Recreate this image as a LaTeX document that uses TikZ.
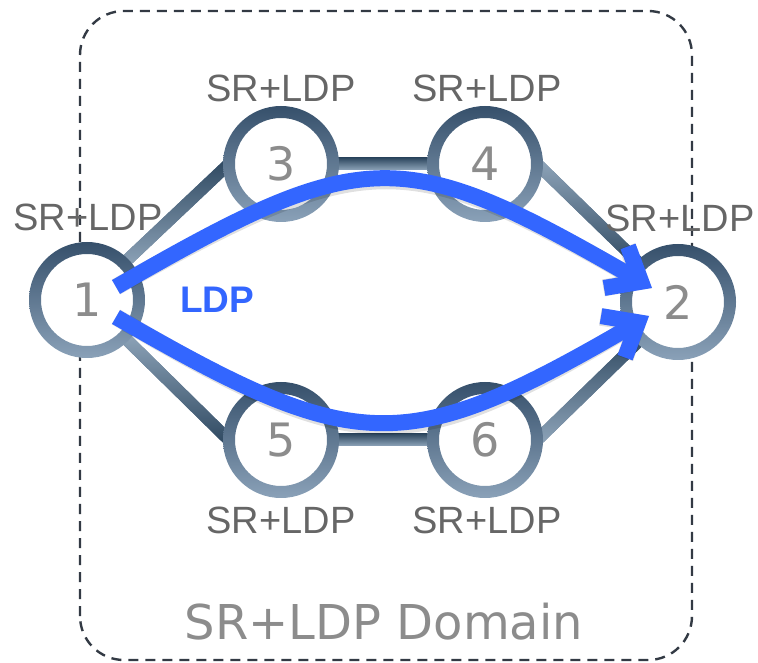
\documentclass[tikz,border=0pt]{standalone}
\usepackage{fontspec}
\setmainfont{Liberation Sans}
\newfontfamily\dejavu{DejaVu Sans}
\usetikzlibrary{arrows.meta,calc}
\definecolor{labgray}{HTML}{666666}
\definecolor{numgray}{HTML}{8C8C8C}
\definecolor{ringdark}{HTML}{36506B}
\definecolor{ringlight}{HTML}{8AA1B8}
\definecolor{linkdark}{HTML}{2F4961}
\definecolor{linklight}{HTML}{8EA4B9}
\definecolor{linkcol}{HTML}{5E7690}
\definecolor{ldpblue}{HTML}{3366FF}
\definecolor{boxline}{HTML}{333A44}
\newcommand\linkbar[4]{%
  \draw[link] (#1) -- (#2);
  \shade[top color=#3, bottom color=#4]
    ($(#1)!6pt!90:(#2)$) -- ($(#1)!6pt!-90:(#2)$) --
    ($(#2)!6pt!90:(#1)$) -- ($(#2)!6pt!-90:(#1)$) -- cycle;}
\begin{document}
\begin{tikzpicture}[x=1pt,y=1pt,
  router/.style={circle, minimum size=104pt, inner sep=0pt, fill=white},
  num/.style={font=\dejavu\fontsize{46}{46}\selectfont, text=numgray, inner sep=0pt},
  lab/.style={font=\fontsize{38}{40}\selectfont, text=labgray, inner sep=0pt},
  link/.style={draw=linkcol, line width=12pt},
  lsp/.style={draw=ldpblue, line width=16pt, -{Straight Barb[length=29pt,width=48pt]}},
  lspshadow/.style={draw=black, opacity=0.12, line width=17pt, -{Straight Barb[length=29pt,width=48pt]}},
]
\useasboundingbox (0,0) rectangle (758,662);
% domain
\draw[boxline, line width=2.4pt, dash pattern=on 10pt off 7pt, rounded corners=44pt] (80,2) rectangle (692,651);
\node[font=\dejavu\fontsize{48}{48}\selectfont, text=numgray, inner sep=0pt] (dom) at (384,40) {SR+LDP Domain};
% router positions
\coordinate (p1) at (87,362);
\coordinate (p3) at (281,498);
\coordinate (p4) at (485,498);
\coordinate (p5) at (281,222);
\coordinate (p6) at (485,222);
\coordinate (p2) at (678,360);
% routers (white discs)
\node[router] (n1) at (p1) {};
\node[router] (n3) at (p3) {};
\node[router] (n4) at (p4) {};
\node[router] (n5) at (p5) {};
\node[router] (n6) at (p6) {};
\node[router] (n2) at (p2) {};
% links
\linkbar{n1.45}{n3.west}{linkdark}{linklight}
\linkbar{n1.-45}{n5.west}{linklight}{linkdark}
\linkbar{n3.east}{n4.west}{linkdark}{linklight}
\linkbar{n5.east}{n6.west}{linkdark}{linklight}
\linkbar{n4.east}{n2.135}{linklight}{linkdark}
\linkbar{n6.east}{n2.-135}{linkdark}{linklight}
% interiors, numbers and rings over links
\foreach \n/\t in {n1/1,n3/3,n4/4,n5/5,n6/6,n2/2}{
  \fill[white] (\n.center) circle[radius=50pt];
  \node[num] at (\n.center) {\t};
  \shade[even odd rule, top color=ringdark, bottom color=ringlight]
    (\n.center) circle[radius=58pt] (\n.center) circle[radius=46pt];
}
% labels
\node[lab] (l1) at (88,445) {SR+LDP};
\node[lab] (l3) at (281,574) {SR+LDP};
\node[lab] (l4) at (487,574) {SR+LDP};
\node[lab] (l2) at (680,444) {SR+LDP};
\node[lab] (l5) at (281,142) {SR+LDP};
\node[lab] (l6) at (487,142) {SR+LDP};
% LSP arrows
\coordinate (a1s) at (116,375);
\coordinate (a1e) at (652,374);
\coordinate (a2s) at (116,345);
\coordinate (a2e) at (649,346);
\draw[lspshadow, shift={(1.5,-3.5)}] (a1s) .. controls (365,519) and (403,518) .. (a1e);
\draw[lspshadow, shift={(1.5,-3.5)}] (a2s) .. controls (358,205) and (406,205) .. (a2e);
\draw[lsp] (a1s) .. controls (365,519) and (403,518) .. (a1e);
\draw[lsp] (a2s) .. controls (358,205) and (406,205) .. (a2e);
\node[font=\bfseries\fontsize{37}{37}\selectfont, text=ldpblue, inner sep=0pt] (ldp) at (217,362) {LDP};
\end{tikzpicture}
\end{document}
